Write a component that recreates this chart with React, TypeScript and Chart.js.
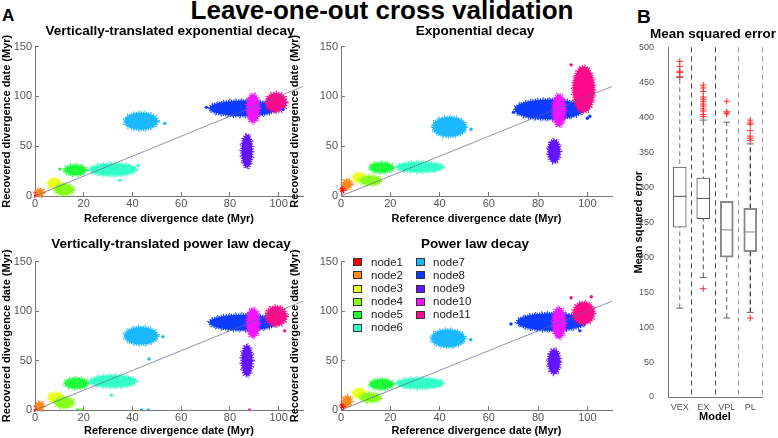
import React, { useEffect, useRef } from 'react';
import { Chart, registerables } from 'chart.js';

Chart.register(...registerables);

const FONT = '"Liberation Sans", Arial, Helvetica, sans-serif';
Chart.defaults.font.family = FONT;
Chart.defaults.color = '#555';

// ---------------- Panel A data ----------------
const nodeNames = ['node1', 'node2', 'node3', 'node4', 'node5', 'node6', 'node7', 'node8', 'node9', 'node10', 'node11'];
const nodeColors = ['#ff0000', '#ff8a1c', '#eaff1e', '#86ff1a', '#1eff3c', '#33ffc8', '#1ab8ff', '#0a3cff', '#6414ff', '#f014ff', '#ff0a8c'];

// cloud centres (reference date x, recovered date y) and half spreads, Myr
const vexCx = [0.5, 2, 8, 12, 16.5, 32, 43.5, 85.5, 87, 89.5, 99];
const vexCy = [1.5, 3.5, 12.5, 6.5, 26, 26.5, 75, 88, 45, 88, 94];
const vexRx = [0.6, 1.6, 2.6, 3.8, 4.5, 9.5, 6.8, 14, 2.2, 2.6, 4.2];
const vexRy = [1.5, 3.5, 5, 5.5, 5.2, 6, 8.5, 7.8, 16.5, 14.2, 9.5];

const exCx = [0.8, 2.5, 7.5, 12, 16.5, 32, 44, 84.5, 86.5, 88.5, 98.5];
const exCy = [6.5, 12, 18.5, 15.5, 28.5, 29, 69.5, 87, 45, 86, 107];
const exRx = [0.8, 1.8, 2.6, 4.2, 4.8, 9.5, 6.8, 14, 2.4, 2.6, 4.3];
const exRy = [2.5, 4.5, 4.5, 4.5, 5, 5, 9.8, 10, 11.5, 16, 23];

const vplCx = [0.5, 2, 8.5, 12, 17, 32, 43.5, 85.5, 87, 89.5, 99];
const vplCy = [1, 4, 12.5, 7.5, 27, 29, 75, 88.5, 50, 88, 95];
const vplRx = [0.6, 1.6, 3, 3.8, 4.8, 9.5, 6.8, 14, 2.2, 2.6, 4.3];
const vplRy = [1.2, 4, 5, 5.5, 5.2, 6, 8.8, 7.9, 15.5, 14.5, 9.8];

const plCx = [0.8, 2.5, 7.5, 12, 16.5, 32, 43.5, 85.5, 86.5, 88.5, 98.5];
const plCy = [4, 9, 17, 12.5, 26, 27, 72.5, 89, 49, 88, 98];
const plRx = [0.8, 1.8, 2.6, 4.2, 4.8, 9.5, 6.8, 14, 2.4, 2.6, 4.3];
const plRy = [2.5, 5, 4.5, 4.5, 5, 5.2, 8.8, 8.8, 12.5, 15.5, 11];

// isolated points (x, y, node number)
const vexStrayX = [70.3, 101.8, 53.3, 10.2, 42.3, 34.8];
const vexStrayY = [89, 87, 72.9, 27, 30.4, 15.7];
const vexStrayNode = [8, 8, 7, 5, 6, 6];

const exStrayX = [52.8, 93.4, 100, 101, 70];
const exStrayY = [67, 131.7, 78, 80, 84];
const exStrayNode = [7, 11, 8, 8, 8];

const vplStrayX = [17.6, 19, 43.7, 46.5, 88, 46.8, 31.4, 102.5, 52.5];
const vplStrayY = [0, 0, 0, 0, 0, 51.6, 15, 80, 74];
const vplStrayNode = [5, 4, 7, 7, 10, 7, 6, 11, 7];

const plStrayX = [52.6, 93.4, 101.6, 69, 97];
const plStrayY = [71, 113.5, 114.5, 87, 80];
const plStrayNode = [7, 11, 11, 8, 8];

const identityLine = [0, 110];

// ---------------- Panel B data ----------------
const models = ['VEX', 'EX', 'VPL', 'PL'];
const q1 = [243, 255, 200, 208];
const q3 = [329, 313, 280, 270];
const medians = [287, 284, 239, 236];
const whiskerLow = [127, 171, 113, 121];
const whiskerHigh = [457, 396, 393, 362];
const outliersVEX = [480, 473, 466, 464, 458];
const outliersEX = [446, 442, 437, 429, 426, 423, 419, 416, 412, 409, 404, 401, 155];
const outliersVPL = [423, 408, 406, 405];
const outliersPL = [396, 392, 390, 381, 373, 370, 367, 113];

const cloudPlugin = {
  id: 'clouds',
  beforeDatasetDraw(chart: any, args: any) {
    const ds = chart.data.datasets[args.index];
    if (ds.cloudRx == null) return;
    const xs = chart.scales.x;
    const ys = chart.scales.y;
    const pt = ds.data[0];
    const px = xs.getPixelForValue(pt.x);
    const py = ys.getPixelForValue(pt.y);
    const rx = Math.abs(xs.getPixelForValue(pt.x + ds.cloudRx) - px);
    const ry = Math.abs(ys.getPixelForValue(pt.y + ds.cloudRy) - py);
    const ctx = chart.ctx;
    ctx.save();
    ctx.fillStyle = ds.backgroundColor;
    ctx.strokeStyle = ds.backgroundColor;
    ctx.beginPath();
    ctx.ellipse(px, py, rx, ry, 0, 0, Math.PI * 2);
    ctx.fill();
    ctx.lineWidth = 2.6;
    ctx.setLineDash([1.3, 1.1]);
    ctx.stroke();
    ctx.beginPath();
    ctx.ellipse(px, py, rx + 1.8, ry + 1.8, 0, 0, Math.PI * 2);
    ctx.lineWidth = 1.2;
    ctx.setLineDash([1, 5]);
    ctx.stroke();
    ctx.restore();
  },
};

function scatterConfig(cx: number[], cy: number[], rx: number[], ry: number[], sx: number[], sy: number[], sn: number[], yw: number, xh: number) {
  const clouds = nodeNames.map((name, i) => ({
    type: 'scatter',
    label: name,
    data: [{ x: cx[i], y: cy[i] }],
    cloudRx: rx[i],
    cloudRy: ry[i],
    backgroundColor: nodeColors[i],
    borderColor: nodeColors[i],
    pointRadius: 0,
    order: 100 - i,
  }));
  const strays = {
    type: 'scatter',
    label: 'strays',
    data: sx.map((x, k) => ({ x, y: sy[k] })),
    pointRadius: 1.7,
    pointBorderWidth: 0,
    pointBackgroundColor: sn.map((n) => nodeColors[n - 1]),
    order: 1,
  };
  const diag = {
    type: 'line',
    label: 'identity',
    data: identityLine.map((v) => ({ x: v, y: v })),
    borderColor: 'rgba(95,95,140,0.85)',
    borderWidth: 0.8,
    pointRadius: 0,
    order: 0,
  };
  const axisCommon = {
    grid: { display: true, drawOnChartArea: false, drawTicks: true, tickLength: -4, color: '#777' },
    border: { display: true, color: '#777' },
  };
  return {
    type: 'scatter',
    data: { datasets: [...clouds, strays, diag] },
    options: {
      animation: false,
      responsive: false,
      events: [],
      layout: { padding: { top: 10, right: 9, left: 0, bottom: 0 } },
      plugins: { legend: { display: false }, tooltip: { enabled: false }, title: { display: false } },
      scales: {
        x: {
          type: 'linear',
          min: 0,
          max: 110,
          afterFit: (s: any) => { s.height = xh; },
          ticks: { stepSize: 20, includeBounds: false, maxRotation: 0, font: { size: 11 }, color: '#555', padding: 5.5 },
          ...axisCommon,
          title: { display: true, text: 'Reference divergence date (Myr)', color: '#000', font: { size: 11, weight: 'bold' }, padding: 0 },
        },
        y: {
          type: 'linear',
          min: 0,
          max: 150,
          afterFit: (s: any) => { s.width = yw; },
          ticks: { stepSize: 50, font: { size: 11 }, color: '#555', padding: 7 },
          ...axisCommon,
          title: { display: true, text: 'Recovered divergence date (Myr)', color: '#000', font: { size: 11, weight: 'bold' }, padding: 0 },
        },
      },
    },
    plugins: [cloudPlugin],
  };
}

function boxConfig() {
  const boxColors = ['#555', '#555', '#888', '#888'];
  const boxWidths = [1, 1, 2, 2];
  const whiskerColors = ['#777', '#555', '#666', '#000'];
  const whiskers = models.map((m, i) => ({
    type: 'line',
    label: 'whisker ' + m,
    data: [{ x: m, y: whiskerLow[i] }, { x: m, y: whiskerHigh[i] }],
    borderColor: whiskerColors[i],
    borderWidth: 1,
    borderDash: [5, 3],
    pointRadius: 0,
    order: 10,
  }));
  const outlierPts = [
    ...outliersVEX.map((y) => ({ x: 'VEX', y })),
    ...outliersEX.map((y) => ({ x: 'EX', y })),
    ...outliersVPL.map((y) => ({ x: 'VPL', y })),
    ...outliersPL.map((y) => ({ x: 'PL', y })),
  ];
  return {
    type: 'bar',
    data: {
      labels: models,
      datasets: [
        ...whiskers,
        {
          type: 'bar',
          label: 'IQR',
          data: models.map((m, i) => [q1[i], q3[i]]),
          backgroundColor: '#ffffff',
          borderColor: boxColors,
          borderWidth: boxWidths,
          borderSkipped: false,
          barThickness: 13,
          order: 5,
        },
        {
          type: 'line',
          label: 'median',
          data: medians,
          showLine: false,
          pointStyle: 'line',
          pointRadius: 6.5,
          pointBorderColor: boxColors,
          pointBorderWidth: 1,
          order: 3,
        },
        {
          type: 'line',
          label: 'low cap',
          data: whiskerLow,
          showLine: false,
          pointStyle: 'line',
          pointRadius: 3.5,
          pointBorderColor: '#666',
          pointBorderWidth: 1,
          order: 3,
        },
        {
          type: 'line',
          label: 'high cap',
          data: whiskerHigh,
          showLine: false,
          pointStyle: 'line',
          pointRadius: 3.5,
          pointBorderColor: '#666',
          pointBorderWidth: 1,
          order: 3,
        },
        {
          type: 'line',
          label: 'outliers',
          data: outlierPts,
          showLine: false,
          pointStyle: 'cross',
          pointRadius: 3.2,
          pointBorderColor: '#ff2a2a',
          pointBorderWidth: 1,
          order: 1,
        },
      ],
    },
    options: {
      animation: false,
      responsive: false,
      events: [],
      layout: { padding: { top: 8, right: 10, left: 0, bottom: 0 } },
      plugins: { legend: { display: false }, tooltip: { enabled: false } },
      scales: {
        x: {
          type: 'category',
          offset: true,
          afterFit: (s: any) => { s.height = 27; },
          grid: {
            display: true,
            offset: true,
            drawTicks: false,
            drawOnChartArea: true,
            lineWidth: 1,
            color: (c: any) => (c.index === 0 ? 'rgba(0,0,0,0)' : c.index <= 2 ? '#444' : '#999'),
          },
          border: { display: true, color: '#777', dash: [5, 4] },
          ticks: { font: { size: 9 }, color: '#555', padding: 5, maxRotation: 0, minRotation: 0, autoSkip: false },
          title: { display: true, text: 'Model', color: '#000', font: { size: 11, weight: 'bold' }, padding: 0 },
        },
        y: {
          min: 0,
          max: 500,
          afterFit: (s: any) => { s.width = 36; },
          grid: { display: false },
          border: { display: true, color: '#777' },
          ticks: { stepSize: 50, font: { size: 9 }, color: '#555', padding: 6 },
          title: { display: true, text: 'Mean squared error', color: '#000', font: { size: 11, weight: 'bold' }, padding: 0 },
        },
      },
    },
  };
}

type Txt = { text: string; cx?: number; left?: number; baseline: number; size: number; bold?: boolean };

function Label({ text, cx, left, baseline, size, bold }: Txt) {
  const top = baseline - 0.8465 * size;
  const style: any = {
    position: 'absolute',
    top,
    fontSize: size,
    lineHeight: size + 'px',
    fontWeight: bold ? 'bold' : 'normal',
    whiteSpace: 'nowrap',
    color: '#000',
  };
  if (cx != null) {
    style.left = cx - 250;
    style.width = 500;
    style.textAlign = 'center';
  } else {
    style.left = left;
  }
  return <div style={style}>{text}</div>;
}

export default function App() {
  const tl = useRef<HTMLCanvasElement>(null);
  const tr = useRef<HTMLCanvasElement>(null);
  const bl = useRef<HTMLCanvasElement>(null);
  const br = useRef<HTMLCanvasElement>(null);
  const bx = useRef<HTMLCanvasElement>(null);

  useEffect(() => {
    const charts: Chart[] = [];
    charts.push(new Chart(tl.current as any, scatterConfig(vexCx, vexCy, vexRx, vexRy, vexStrayX, vexStrayY, vexStrayNode, 35, 30) as any));
    charts.push(new Chart(tr.current as any, scatterConfig(exCx, exCy, exRx, exRy, exStrayX, exStrayY, exStrayNode, 53, 30) as any));
    charts.push(new Chart(bl.current as any, scatterConfig(vplCx, vplCy, vplRx, vplRy, vplStrayX, vplStrayY, vplStrayNode, 35, 28) as any));
    charts.push(new Chart(br.current as any, scatterConfig(plCx, plCy, plRx, plRy, plStrayX, plStrayY, plStrayNode, 53, 28) as any));
    charts.push(new Chart(bx.current as any, boxConfig() as any));
    return () => charts.forEach((c) => c.destroy());
  }, []);

  const cv = (left: number, top: number, w: number, h: number): any => ({ position: 'absolute', left, top, width: w, height: h });

  return (
    <div style={{ position: 'absolute', left: 0, top: 0, width: 778, height: 438, overflow: 'hidden', background: '#fff', fontFamily: FONT }}>
      <canvas ref={tl} width={312} height={193} style={cv(0, 33, 312, 193)} />
      <canvas ref={tr} width={333} height={193} style={cv(288, 33, 333, 193)} />
      <canvas ref={bl} width={312} height={190} style={cv(0, 248, 312, 190)} />
      <canvas ref={br} width={333} height={190} style={cv(288, 248, 333, 190)} />
      <canvas ref={bx} width={140} height={388} style={cv(632, 36, 140, 388)} />

      <Label text="Leave-one-out cross validation" cx={382} baseline={18.5} size={26} bold />
      <Label text="A" left={2} baseline={21.7} size={17} bold />
      <Label text="B" left={637} baseline={22.7} size={19} bold />
      <Label text="Vertically-translated exponential decay" cx={170} baseline={35.7} size={13.5} bold />
      <Label text="Exponential decay" cx={475} baseline={35.7} size={13.5} bold />
      <Label text="Vertically-translated power law decay" cx={171} baseline={248} size={13.5} bold />
      <Label text="Power law decay" cx={475} baseline={248} size={13.5} bold />
      <Label text="Mean squared error" cx={713} baseline={38} size={13.5} bold />

      {nodeNames.map((name, k) => {
        const col = k < 6 ? 0 : 1;
        const row = k % 6;
        const boxLeft = col === 0 ? 353 : 416;
        const textLeft = col === 0 ? 371 : 433;
        const boxTop = 258.3 + 13.1 * row;
        const baseline = 266.7 + 13.1 * row;
        const size = 11.5;
        return (
          <React.Fragment key={name}>
            <div style={{ position: 'absolute', left: boxLeft, top: boxTop, width: 7, height: 6, boxSizing: 'content-box', background: nodeColors[k], border: '1px solid #333' }} />
            <div style={{ position: 'absolute', left: textLeft, top: baseline - 0.8465 * size, fontSize: size, lineHeight: size + 'px', color: '#222', whiteSpace: 'nowrap' }}>{name}</div>
          </React.Fragment>
        );
      })}
    </div>
  );
}
